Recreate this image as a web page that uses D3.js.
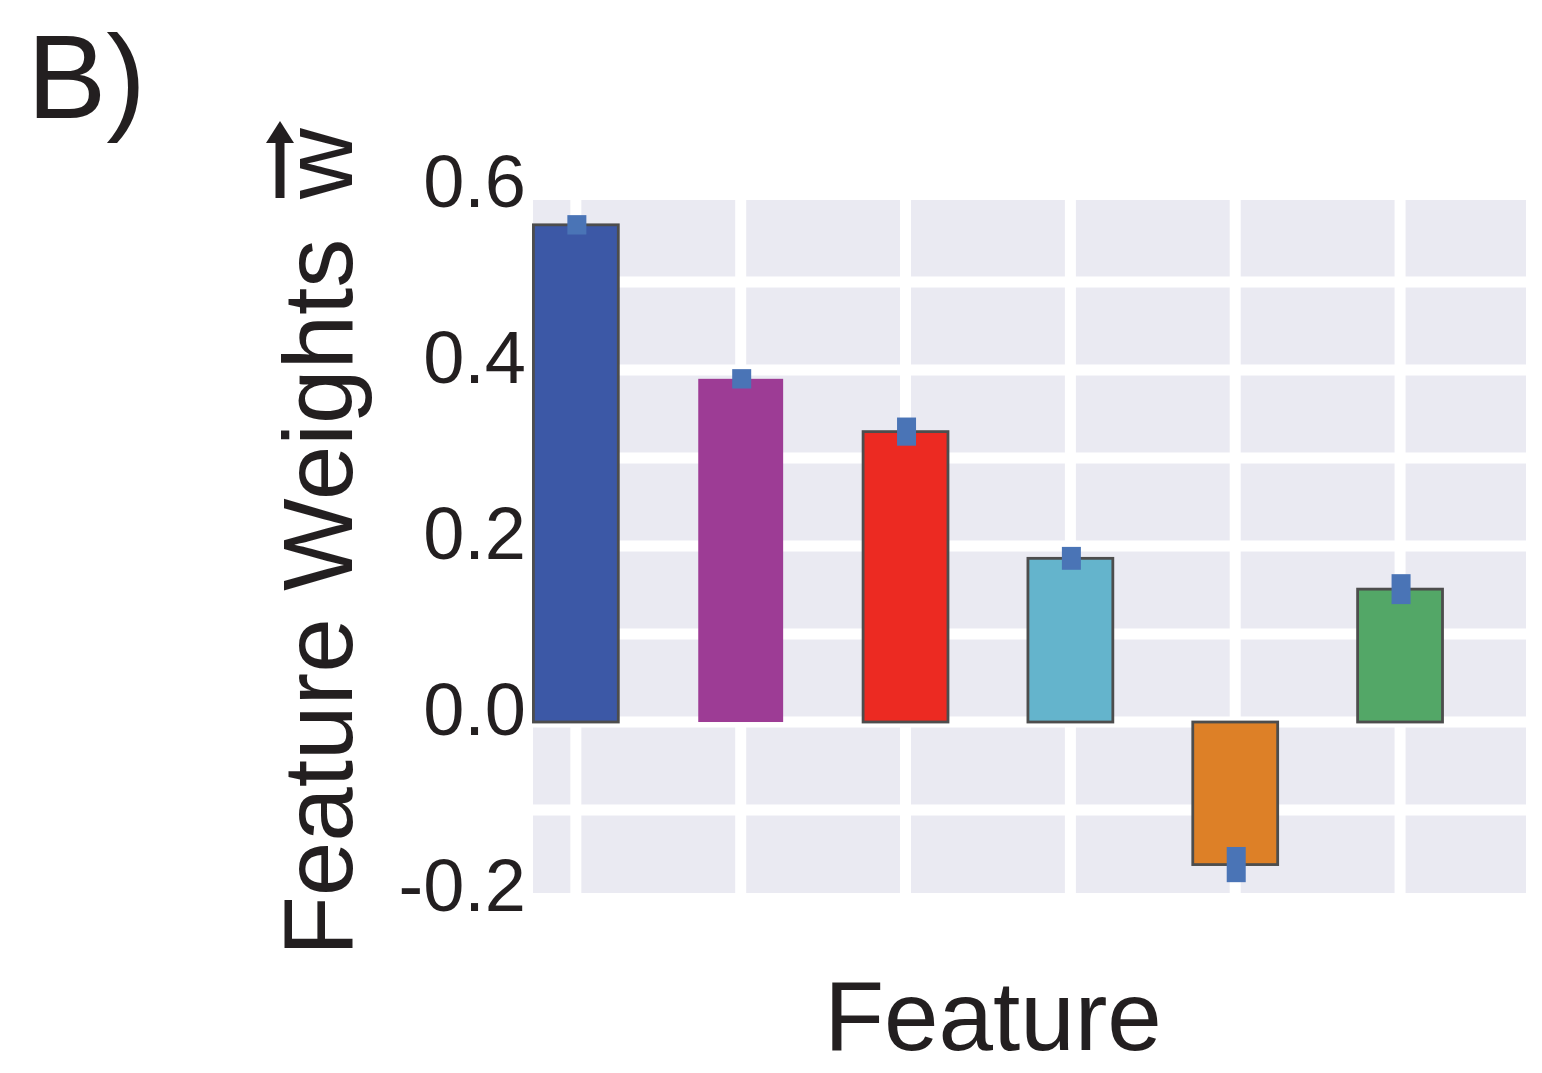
<!DOCTYPE html>
<html>
<head>
<meta charset="utf-8">
<script src="https://cdn.jsdelivr.net/npm/d3@7"></script>
<style>
  html, body { margin: 0; padding: 0; background: #ffffff; }
  svg { display: block; font-family: "Liberation Sans", Arial, sans-serif; }
</style>
</head>
<body>
<svg id="chart" width="1542" height="1073"></svg>
<script>
// ---- data ----
const features = ["f1", "f2", "f3", "f4", "f5", "f6"];
const weights  = [0.565, 0.390, 0.330, 0.186, -0.162, 0.151];
const errors   = [0.011, 0.011, 0.016, 0.013, 0.020, 0.017];
const colors   = ["#3c58a6", "#9d3c95", "#ec2a22", "#64b4cc", "#dd8027", "#53a767"];
const outlined = [true, false, true, true, true, true];
const yTicks   = [-0.2, 0.0, 0.2, 0.4, 0.6];
const yGrid    = [-0.1, 0.0, 0.1, 0.2, 0.3, 0.4, 0.5];
const yTickLabels = ["-0.2", "0.0", "0.2", "0.4", "0.6"];

const svg = d3.select("#chart");
const plot = { left: 533, right: 1526, top: 200, bottom: 893 };

const x = d3.scaleLinear().domain([-0.26, 5.764]).range([plot.left, plot.right]);
const y = d3.scaleLinear().domain([-0.1943, 0.5932]).range([plot.bottom, plot.top]);
const barW = x(0.515) - x(0);

// background
svg.append("rect")
  .attr("x", plot.left).attr("y", plot.top)
  .attr("width", plot.right - plot.left).attr("height", plot.bottom - plot.top)
  .attr("fill", "#eaeaf2");

svg.append("clipPath").attr("id", "plotclip")
  .append("rect")
  .attr("x", plot.left).attr("y", plot.top)
  .attr("width", plot.right - plot.left).attr("height", plot.bottom - plot.top);

const grid = svg.append("g").attr("clip-path", "url(#plotclip)");
grid.selectAll("line.h").data(yGrid).join("line")
  .attr("class", "h")
  .attr("x1", plot.left).attr("x2", plot.right)
  .attr("y1", d => y(d)).attr("y2", d => y(d))
  .attr("stroke", "#ffffff").attr("stroke-width", 11);
grid.selectAll("line.v").data(features).join("line")
  .attr("class", "v")
  .attr("x1", (d, i) => x(i)).attr("x2", (d, i) => x(i))
  .attr("y1", plot.top).attr("y2", plot.bottom)
  .attr("stroke", "#ffffff").attr("stroke-width", 11);

// bars
svg.append("g").selectAll("rect").data(weights).join("rect")
  .attr("x", (d, i) => x(i) - barW / 2)
  .attr("width", barW)
  .attr("y", d => y(Math.max(0, d)))
  .attr("height", d => Math.abs(y(d) - y(0)))
  .attr("fill", (d, i) => colors[i])
  .attr("stroke", (d, i) => outlined[i] ? "#4d4d4d" : "none")
  .attr("stroke-width", 2.8);

// error markers
const errW = 19;
svg.append("g").selectAll("rect").data(weights).join("rect")
  .attr("x", (d, i) => x(i) - errW / 2 + 1)
  .attr("width", errW)
  .attr("y", (d, i) => y(d + errors[i]))
  .attr("height", (d, i) => y(d - errors[i]) - y(d + errors[i]))
  .attr("fill", "#4a74b6");

// y tick labels
svg.append("g").selectAll("text").data(yTicks).join("text")
  .attr("x", 526)
  .attr("y", d => y(d) + 13)
  .attr("text-anchor", "end")
  .attr("font-size", 74)
  .attr("fill", "#231f20")
  .text((d, i) => yTickLabels[i]);

// x label
svg.append("text")
  .attr("x", 993).attr("y", 1050)
  .attr("text-anchor", "middle")
  .attr("font-size", 98)
  .attr("fill", "#231f20")
  .text("Feature");

// y label (rotated) with vector w
const yl = svg.append("g").attr("transform", "translate(352,956) rotate(-90)");
yl.append("text")
  .attr("x", 0).attr("y", 0)
  .attr("font-size", 98)
  .attr("fill", "#231f20")
  .text("Feature Weights");
yl.append("text")
  .attr("x", 757).attr("y", 0)
  .attr("font-size", 98)
  .attr("fill", "#231f20")
  .text("w");
// arrow over w
yl.append("line")
  .attr("x1", 758).attr("x2", 815)
  .attr("y1", -72).attr("y2", -72)
  .attr("stroke", "#231f20").attr("stroke-width", 9);
yl.append("path")
  .attr("d", "M813,-86 L835,-72 L813,-58 Z")
  .attr("fill", "#231f20");

// panel label
svg.append("text")
  .attr("x", 27).attr("y", 118)
  .attr("font-size", 119)
  .attr("fill", "#231f20")
  .text("B)");
</script>
</body>
</html>
